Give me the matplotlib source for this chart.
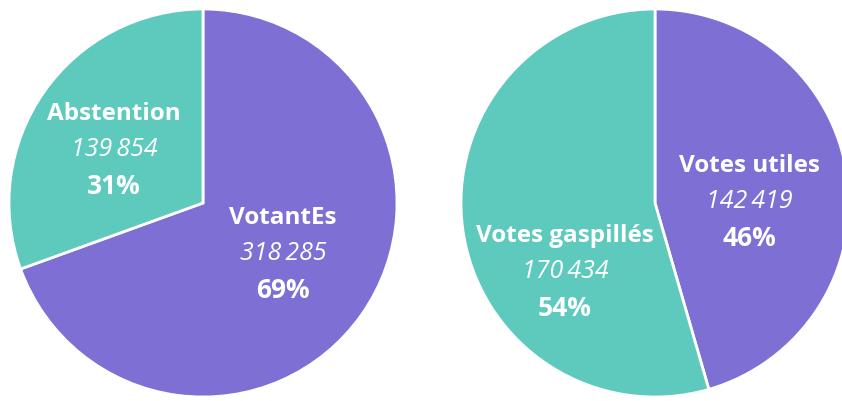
import matplotlib
matplotlib.use("Agg")
import matplotlib.pyplot as plt

# données
left_labels = ["VotantEs", "Abstention"]
left_values = [318285, 139854]
right_labels = ["Votes utiles", "Votes gaspillés"]
right_values = [142419, 170434]

PURPLE = "#7e6fd5"
TEAL = "#5ecabe"
W, H = 842, 401


def fmt(v):
    return f"{v:,}".replace(",", "\u2009")


def pct(v, values):
    return f"{round(100 * v / sum(values))}%"


def draw_labels(ax, x, y, name, value, values):
    kw = dict(color="white", ha="center", va="center", family=["Open Sans", "DejaVu Sans"])
    ax.text(x, y, name, fontsize=17.5, fontweight="bold", **kw)
    ax.text(x, y - 36, fmt(value), fontsize=18, style="italic", **kw)
    ax.text(x, y - 72, pct(value, values), fontsize=19, fontweight="bold", **kw)


fig = plt.figure(figsize=(W / 100, H / 100), dpi=100)
ax = fig.add_axes([0, 0, 1, 1])

wedge = dict(edgecolor="white", linewidth=2)
ax.pie(left_values, colors=[PURPLE, TEAL], startangle=90, counterclock=False,
       center=(203, H - 203), radius=194, wedgeprops=wedge, frame=True)
ax.pie(right_values, colors=[PURPLE, TEAL], startangle=90, counterclock=False,
       center=(655, H - 203), radius=194, wedgeprops=wedge, frame=True)
ax.set_xlim(0, W)
ax.set_ylim(0, H)
ax.set_aspect("equal")
ax.axis("off")

draw_labels(ax, 114, H - 114, left_labels[1], left_values[1], left_values)
draw_labels(ax, 283, H - 218, left_labels[0], left_values[0], left_values)
draw_labels(ax, 749, H - 166, right_labels[0], right_values[0], right_values)
draw_labels(ax, 565, H - 236, right_labels[1], right_values[1], right_values)

fig.savefig("out.png", dpi=100)
